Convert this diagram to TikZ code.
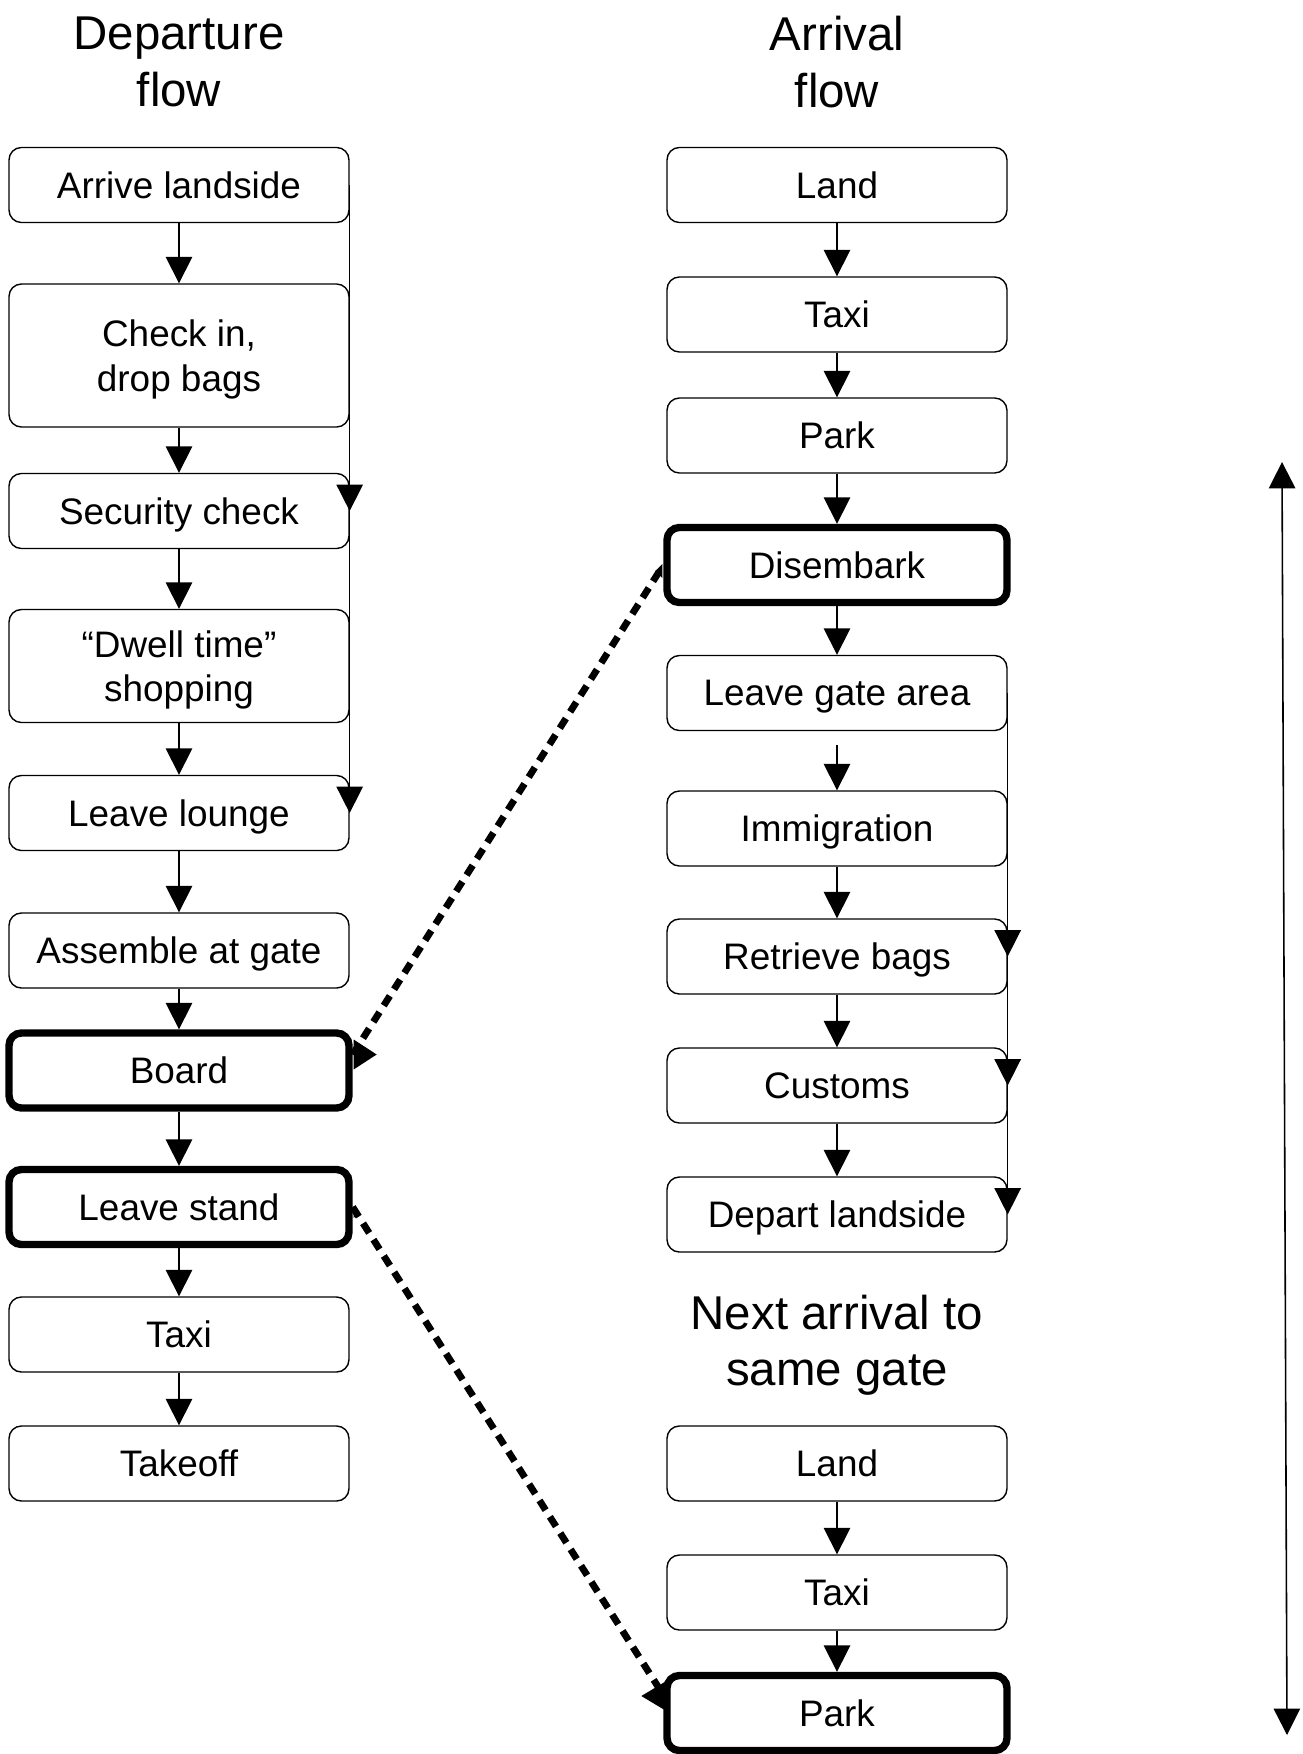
\documentclass[tikz,border=0pt]{standalone}
\usepackage{fontspec}
\setmainfont{Liberation Sans}
\usepackage{tikz}
\usetikzlibrary{arrows.meta,calc}
\newcommand{\boxfont}{\fontsize{21}{25.4}\selectfont}
\newcommand{\titlefont}{\fontsize{27}{32}\selectfont}
\tikzset{
    flownode/.style={draw,fill=white,rounded corners=7pt,align=center,inner sep=0pt,text depth=0pt,minimum width=6.8cm,minimum height=1.5cm,font=\boxfont,line width=0.8pt},
    boldnode/.style={flownode,line width=4.2pt},
    titlenode/.style={align=center,font=\titlefont},
    flowarrow/.style={-{Triangle[width=15pt,length=15pt]},line width=0.9pt},
    spanarrow/.style={{Triangle[width=15pt,length=15pt]}-{Triangle[width=15pt,length=15pt]},line width=0.9pt},
    dotlink/.style={line width=3.9pt,dash pattern=on 6.5pt off 4.5pt}
}
\begin{document}
\begin{tikzpicture}[x=0.02cm,y=-0.02cm]
				\useasboundingbox (0,0) rectangle (1302,1754);
				
				\node[titlenode] (deptitle) at (179,62) {Departure\\flow};
				\node[titlenode] (arrtitle) at (837,62) {Arrival\\flow};
				\node[titlenode] (nexttitle) at (837,1345) {Next arrival to\\same gate};
				
				\node[flownode] (arrive) at (179,185) {Arrive landside};
				\node[flownode,minimum height=2.86cm] (checkin) at (179,355.5) {Check in,\\drop bags};
				\node[flownode] (security) at (179,511) {Security check};
				\node[flownode,minimum height=2.26cm] (dwell) at (179,666) {“Dwell time”\\shopping};
				\node[flownode] (lounge) at (179,813) {Leave lounge};
				\node[flownode] (assemble) at (179,950.5) {Assemble at gate};
				\node[boldnode] (board) at (179,1070.5) {Board};
				\node[boldnode] (stand) at (179,1207) {Leave stand};
				\node[flownode] (deptaxi) at (179,1334.5) {Taxi};
				\node[flownode] (takeoff) at (179,1463.5) {Takeoff};
				
				\node[flownode] (land) at (837,185) {Land};
				\node[flownode] (arrtaxi) at (837,314.5) {Taxi};
				\node[flownode] (arrpark) at (837,435.5) {Park};
				\node[boldnode] (disembark) at (837,565) {Disembark};
				\node[flownode] (gatearea) at (837,693) {Leave gate area};
				\node[flownode] (immigration) at (837,828.5) {Immigration};
				\node[flownode] (bags) at (837,956.5) {Retrieve bags};
				\node[flownode] (customs) at (837,1085.5) {Customs};
				\node[flownode] (landside) at (837,1214.5) {Depart landside};
				\node[flownode] (nextland) at (837,1463.5) {Land};
				\node[flownode] (nexttaxi) at (837,1592.5) {Taxi};
				\node[boldnode] (nextpark) at (837,1713) {Park};
				
				\foreach \a/\b in {arrive/checkin,checkin/security,security/dwell,dwell/lounge,lounge/assemble,assemble/board,board/stand,stand/deptaxi,deptaxi/takeoff,land/arrtaxi,arrtaxi/arrpark,arrpark/disembark,disembark/gatearea,immigration/bags,bags/customs,customs/landside,nextland/nexttaxi,nexttaxi/nextpark}
					\draw[flowarrow] (\a) -- (\b);
				
				\coordinate (gategap) at (837,745);
				\draw[flowarrow] (gategap) -- (immigration);
				
				\draw[flowarrow] (arrive.east) -- (security.east);
				\draw[flowarrow] (arrive.east) -- (lounge.east);
				\draw[flowarrow] (gatearea.east) -- (bags.east);
				\draw[flowarrow] (gatearea.east) -- (customs.east);
				\draw[flowarrow] (gatearea.east) -- (landside.east);
				
				\draw[dotlink] ($(board.east)+(0,-16)$) -- (disembark.west);
				\draw[dotlink] (stand.east) -- ($(nextpark.west)+(0,-18)$);
				\fill ($(board.east)+(1,-31)$) -- ($(board.east)+(24,-16)$) -- ($(board.east)+(1,-1)$) -- cycle;
				\fill ($(disembark.west)+(-1,-1)$) -- ($(disembark.west)+(-8,6)$) -- ($(disembark.west)+(-1,13)$) -- cycle;
				\fill ($(stand.east)+(1,-1)$) -- ($(stand.east)+(7,5)$) -- ($(stand.east)+(1,11)$) -- cycle;
				\fill ($(nextpark.west)+(3,-32)$) -- ($(nextpark.west)+(-22,-17)$) -- ($(nextpark.west)+(3,-2)$) -- cycle;
				
				\coordinate (spantop) at (1282,462);
				\coordinate (spanbot) at (1287,1735);
				\draw[spanarrow] (spantop) -- (spanbot);
			\end{tikzpicture}
\end{document}
